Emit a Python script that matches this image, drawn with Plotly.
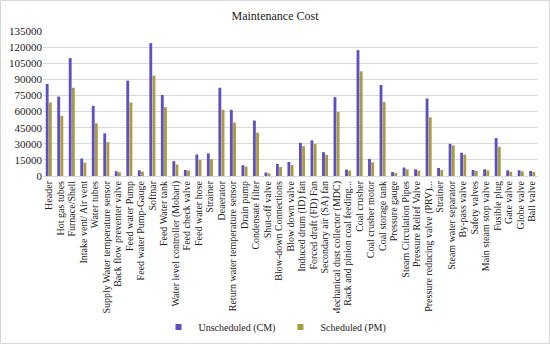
import plotly.graph_objects as go

categories = [
    "Header", "Hot gas tubes", "Furnace/Shell", "Intake vent/ Air vent", "Water tubes",
    "Supply Water temperature sensor", "Back flow preventer valve", "Feed water Pump",
    "Feed water Pump-Gauge", "Softnar", "Feed Water tank", "Water level controller (Mobari)",
    "Feed check valve", "Feed water hose", "Strainer", "Deaerator",
    "Return water temperature sensor", "Drain pump", "Condensate filter", "Shut-off valve",
    "Blow-down Connections", "Blow down valve", "Induced drum (ID) fan", "Forced draft (FD) Fan",
    "Secondary air (SA) fan", "Mechanical dust collector (MDC)", "Rack and pinion coal feeding...",
    "Coal crusher", "Coal crusher motor", "Coal storage tank", "Pressure gauge",
    "Steam Circulation Pipes", "Pressure Relief Valve", "Pressure reducing valve (PRV)...",
    "Strainer", "Steam water separator", "By-pass valve", "Safety valves",
    "Main steam stop valve", "Fusible plug", "Gate valve", "Globe valve", "Ball valve",
]

unscheduled_cm = [
    85700, 74000, 109700, 16300, 65300, 39700, 4400, 88800, 5300, 123700,
    75400, 13800, 5600, 20000, 21000, 82200, 61600, 10000, 51600, 3200,
    11200, 13100, 30900, 33200, 22200, 73500, 6000, 117200, 15900, 84700,
    3700, 7900, 6300, 72200, 7500, 30000, 21600, 5600, 6300, 35300,
    5300, 5300, 4700,
]

scheduled_pm = [
    68400, 56000, 82200, 12500, 49100, 31600, 3500, 68400, 4100, 93500,
    64100, 10700, 5000, 15000, 15700, 61600, 49700, 8800, 40300, 2500,
    8400, 10300, 27800, 29700, 19700, 59700, 5000, 97500, 12800, 68800,
    2800, 6300, 5000, 54700, 5600, 28500, 20000, 4700, 5300, 27200,
    4100, 4400, 3700,
]

series_names = ["Unscheduled (CM)", "Scheduled (PM)"]
series_colors = ["#5b50c4", "#ab9b3c"]

y_ticks = list(range(0, 135001, 15000))
positions = list(range(len(categories)))

font_family = "Liberation Serif, Times New Roman, serif"

fig = go.Figure()
for vals, name, color in zip([unscheduled_cm, scheduled_pm], series_names, series_colors):
    fig.add_trace(go.Bar(x=positions, y=vals, name=name, showlegend=False,
                         marker=dict(color=color, line=dict(width=0))))
for name, color in zip(series_names, series_colors):
    fig.add_trace(go.Scatter(x=[None], y=[None], mode="markers", name=name,
                             marker=dict(symbol="square", size=6, color=color)))

fig.update_layout(
    width=550, height=344,
    margin=dict(l=43, r=12, t=31, b=168),
    paper_bgcolor="white", plot_bgcolor="white",
    font=dict(family=font_family, color="#222222"),
    title=dict(text="Maintenance Cost", x=0.5, xanchor="center", y=1 - 16 / 344,
               yanchor="middle", font=dict(size=12, family=font_family, color="#222222")),
    barmode="group", bargap=0.45, bargroupgap=0.1,
    showlegend=True,
    legend=dict(orientation="h", xref="container", yref="container", x=0.5, xanchor="center",
                y=1 - 327 / 344, yanchor="middle", font=dict(size=10, family=font_family),
                itemwidth=30, traceorder="normal", tracegroupgap=0),
    xaxis=dict(tickmode="array", tickvals=positions, ticktext=categories, tickangle=-90,
               tickfont=dict(size=10, family=font_family), range=[-0.5, len(categories) - 0.5],
               showgrid=False, showline=True, linecolor="#d9d9d9", ticks="", automargin=False),
    yaxis=dict(range=[0, 135000], tickvals=y_ticks, ticktext=[str(v) for v in y_ticks],
               tickfont=dict(size=11, family=font_family), showgrid=True, gridcolor="#d9d9d9",
               gridwidth=1, zeroline=False, showline=False, ticks="", automargin=False),
    shapes=[dict(type="rect", xref="paper", yref="paper",
                 x0=-42.5 / 495, x1=1 + 11.5 / 495, y0=-167.5 / 145, y1=1 + 30.5 / 145,
                 line=dict(color="#d9d9d9", width=1), fillcolor="rgba(0,0,0,0)", layer="below")],
)

fig.write_html("out.html", post_script="document.body.style.margin='0';",
               config={"displayModeBar": False})
